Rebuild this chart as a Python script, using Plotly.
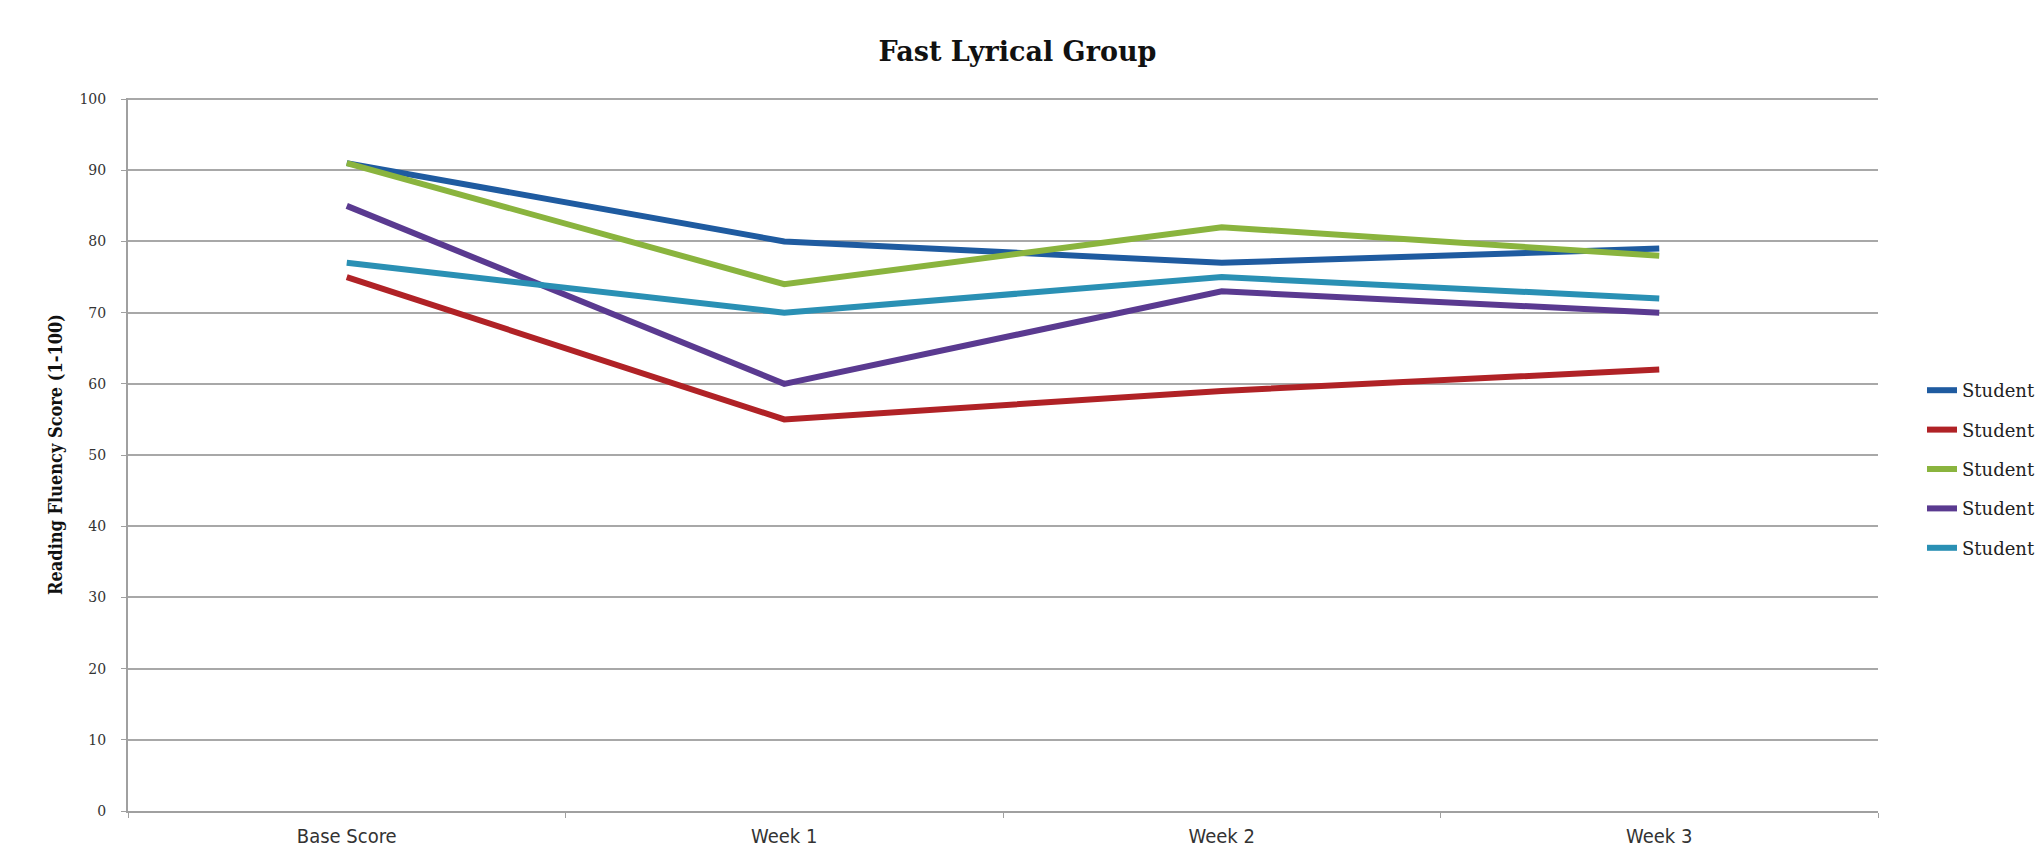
import plotly.graph_objects as go

# Reading fluency scores for the Fast Lyrical group
weeks = ["Base Score", "Week 1", "Week 2", "Week 3"]
student_ids = ["Student 1", "Student 2", "Student 3", "Student 4", "Student 5"]
legend_label = "Student"
student_1 = [91, 80, 77, 79]
student_2 = [75, 55, 59, 62]
student_3 = [91, 74, 82, 78]
student_4 = [85, 60, 73, 70]
student_5 = [77, 70, 75, 72]
y_ticks = [0, 10, 20, 30, 40, 50, 60, 70, 80, 90, 100]

series = [student_1, student_2, student_3, student_4, student_5]
colors = ["#1f5ba0", "#b02226", "#8ab43e", "#5a3a90", "#2a90b4"]

fig = go.Figure()
for sid, values, color in zip(student_ids, series, colors):
    fig.add_trace(go.Scatter(
        x=weeks, y=values, name=legend_label, mode="lines",
        legendgroup=sid,
        hovertemplate=sid + "<br>%{x}: %{y}<extra></extra>",
        line=dict(color=color, width=6),
    ))

serif = "DejaVu Serif, Liberation Serif, serif"
narrow = "Liberation Sans Narrow, DejaVu Sans Condensed, sans-serif"

fig.update_layout(
    width=2035, height=847,
    paper_bgcolor="white", plot_bgcolor="white",
    margin=dict(l=128, r=157, t=98, b=36, autoexpand=False),
    title=dict(
        text="<b>Fast Lyrical Group</b>",
        x=0.5, xref="container", xanchor="center",
        y=1 - 52 / 847, yref="container", yanchor="middle",
        font=dict(family=serif, size=27, color="#111111"),
    ),
    showlegend=True,
    legend=dict(
        xref="container", yref="container",
        x=1922 / 2035, xanchor="left",
        y=1 - 372 / 847, yanchor="top",
        font=dict(family=serif, size=18, color="#222222"),
        tracegroupgap=13,
        bgcolor="rgba(0,0,0,0)",
    ),
    xaxis=dict(
        type="category",
        range=[-0.5, 3.5],
        showgrid=False,
        showline=True, linecolor="#a0a0a0", linewidth=2,
        ticks="outside", tickson="boundaries", ticklen=5, tickcolor="#a0a0a0",
        tickfont=dict(family=narrow, size=20, color="#333333"),
        ticklabelstandoff=6,
    ),
    yaxis=dict(
        range=[0, 100.15],
        tickvals=y_ticks,
        showgrid=True, gridcolor="#a8a8a8", gridwidth=2,
        showline=True, linecolor="#a0a0a0", linewidth=2,
        zeroline=False,
        ticks="outside", ticklen=5, tickcolor="#a0a0a0",
        tickfont=dict(family=serif, size=14, color="#333333"),
        ticklabelstandoff=12,
        title=dict(
            text="<b>Reading Fluency Score (1-100)</b>",
            font=dict(family="DejaVu Serif Condensed, Liberation Serif, serif", size=18, color="#111111"),
            standoff=12,
        ),
    ),
)

fig.write_html("out.html")
